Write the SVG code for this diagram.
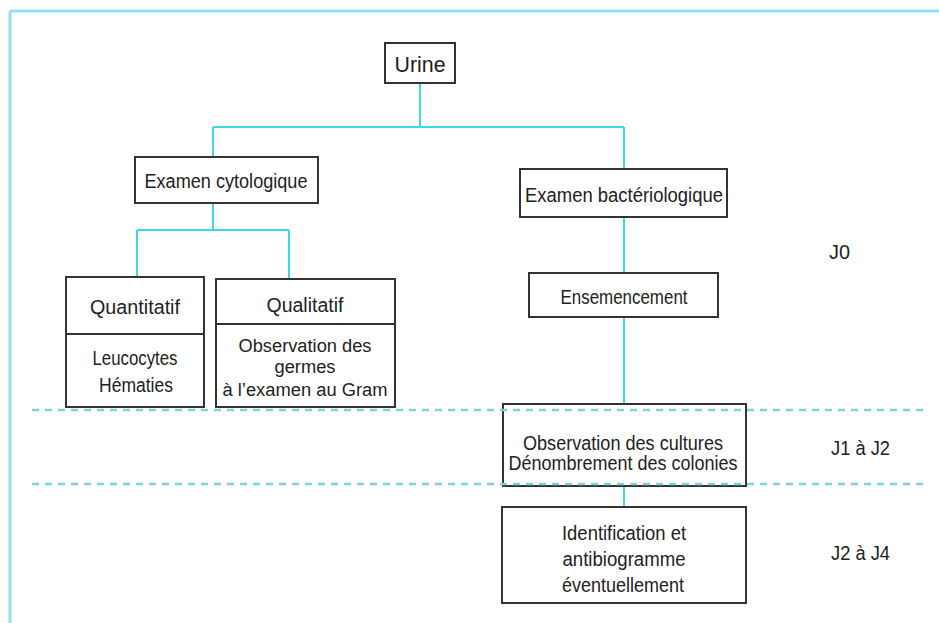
<svg xmlns="http://www.w3.org/2000/svg" width="939" height="623" viewBox="0 0 939 623">
<style>
.bg{fill:#ffffff}
.frame{stroke:#8fe3ea;stroke-width:3;fill:none}
.dash{stroke:#7fd2da;stroke-width:2.5;stroke-dasharray:7 6;fill:none}
.conn{stroke:#3fd9e3;stroke-width:2;fill:none}
.box{fill:#ffffff;stroke:#333333;stroke-width:2}
.div{stroke:#333333;stroke-width:2}
text{font-family:"Liberation Sans",Arial,sans-serif;font-size:20px;fill:#222222;text-anchor:middle}
.sm{font-size:18px}
.lbl{text-anchor:start}
</style>
<rect class="bg" x="0" y="0" width="939" height="623"/>
<g id="frame">
<line class="frame" x1="10" y1="11" x2="939" y2="11"/>
<line class="frame" x1="10" y1="11" x2="10" y2="623"/>
</g>
<g id="connectors">
<line class="conn" x1="420" y1="83" x2="420" y2="127"/>
<line class="conn" x1="213" y1="127" x2="624" y2="127"/>
<line class="conn" x1="213" y1="127" x2="213" y2="157"/>
<line class="conn" x1="624" y1="127" x2="624" y2="169"/>
<line class="conn" x1="213" y1="203" x2="213" y2="230"/>
<line class="conn" x1="137" y1="230" x2="289" y2="230"/>
<line class="conn" x1="137" y1="230" x2="137" y2="277"/>
<line class="conn" x1="289" y1="230" x2="289" y2="279"/>
<line class="conn" x1="624" y1="217" x2="624" y2="273"/>
<line class="conn" x1="624" y1="317" x2="624" y2="404"/>
<line class="conn" x1="624" y1="486" x2="624" y2="507"/>
</g>
<g id="urine">
<rect class="box" x="385" y="43" width="70" height="40"/>
<text x="420" y="72" textLength="51" lengthAdjust="spacingAndGlyphs" style="font-size:22px">Urine</text>
</g>
<g id="examen-cytologique">
<rect class="box" x="135" y="157" width="183" height="46"/>
<text x="226" y="188" textLength="163" lengthAdjust="spacingAndGlyphs">Examen cytologique</text>
</g>
<g id="quantitatif">
<rect class="box" x="66" y="277" width="138" height="130"/>
<line class="div" x1="66" y1="334" x2="204" y2="334"/>
<text x="135" y="314" textLength="90" lengthAdjust="spacingAndGlyphs">Quantitatif</text>
<text x="135" y="365" textLength="85" lengthAdjust="spacingAndGlyphs">Leucocytes</text>
<text x="136" y="392" textLength="74" lengthAdjust="spacingAndGlyphs">Hématies</text>
</g>
<g id="qualitatif">
<rect class="box" x="216" y="279" width="179" height="128"/>
<line class="div" x1="216" y1="324" x2="395" y2="324"/>
<text x="305" y="312" textLength="77" lengthAdjust="spacingAndGlyphs">Qualitatif</text>
<text class="sm" x="305" y="352" textLength="133" lengthAdjust="spacingAndGlyphs">Observation des</text>
<text class="sm" x="305" y="373" textLength="61" lengthAdjust="spacingAndGlyphs">germes</text>
<text class="sm" x="305" y="396" textLength="165" lengthAdjust="spacingAndGlyphs">à l’examen au Gram</text>
</g>
<g id="examen-bacteriologique">
<rect class="box" x="520" y="169" width="207" height="48"/>
<text x="624" y="202" textLength="198" lengthAdjust="spacingAndGlyphs">Examen bactériologique</text>
</g>
<g id="ensemencement">
<rect class="box" x="529" y="273" width="189" height="44"/>
<text x="624" y="304" textLength="127" lengthAdjust="spacingAndGlyphs">Ensemencement</text>
</g>
<g id="observation-cultures">
<rect class="box" x="503" y="404" width="243" height="82"/>
<text x="623" y="450" textLength="200" lengthAdjust="spacingAndGlyphs">Observation des cultures</text>
<text x="623" y="470" textLength="229" lengthAdjust="spacingAndGlyphs">Dénombrement des colonies</text>
</g>
<g id="identification">
<rect class="box" x="502" y="507" width="244" height="96"/>
<text x="624" y="540" textLength="124" lengthAdjust="spacingAndGlyphs">Identification et</text>
<text x="624" y="566" textLength="123" lengthAdjust="spacingAndGlyphs">antibiogramme</text>
<text x="623" y="592" textLength="122" lengthAdjust="spacingAndGlyphs">éventuellement</text>
</g>
<g id="separators">
<line class="dash" x1="32" y1="410" x2="925" y2="410"/>
<line class="dash" x1="32" y1="484" x2="925" y2="484"/>
</g>
<g id="day-labels">
<text class="lbl" x="829" y="259" textLength="21" lengthAdjust="spacingAndGlyphs">J0</text>
<text class="lbl" x="831" y="455" textLength="59" lengthAdjust="spacingAndGlyphs">J1 à J2</text>
<text class="lbl" x="831" y="560" textLength="59" lengthAdjust="spacingAndGlyphs">J2 à J4</text>
</g>
</svg>
